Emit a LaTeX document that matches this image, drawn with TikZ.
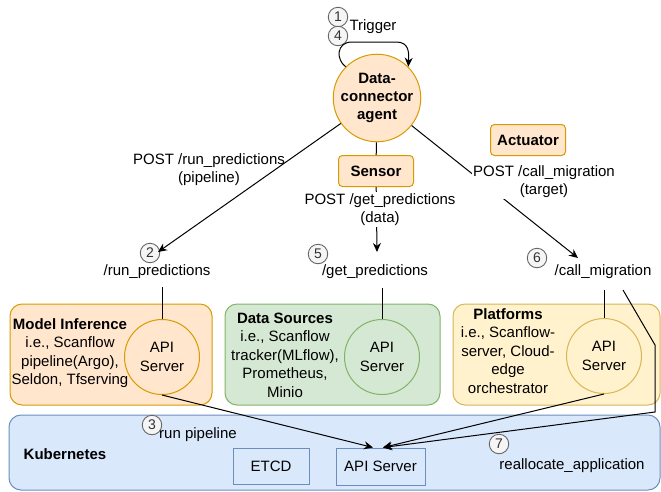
\documentclass[tikz,border=0pt]{standalone}
\usepackage{fontspec}
\setmainfont{Liberation Sans}
\usetikzlibrary{arrows.meta}
\definecolor{orfill}{HTML}{FFE6CC}
\definecolor{ordraw}{HTML}{D79B00}
\definecolor{grfill}{HTML}{D5E8D4}
\definecolor{grdraw}{HTML}{82B366}
\definecolor{yefill}{HTML}{FFF2CC}
\definecolor{yedraw}{HTML}{D6B656}
\definecolor{blfill}{HTML}{DAE8FC}
\definecolor{bldraw}{HTML}{6C8EBF}
\definecolor{numfill}{HTML}{F5F5F5}
\definecolor{numdraw}{HTML}{666666}
\definecolor{numtext}{HTML}{333333}
\begin{document}
\begin{tikzpicture}[x=1pt,y=-1pt,
 every node/.style={font=\fontsize{15}{18.5}\selectfont, inner sep=0pt},
 conn/.style={draw=black, line width=1pt},
 arr/.style={conn, -{Stealth[length=9pt,width=8pt]}},
 num/.style={circle, draw=numdraw, fill=numfill, text=numtext, minimum size=19.5pt, font=\fontsize{14}{14}\selectfont, line width=0.9pt},
 panel/.style={rounded corners=12pt, line width=1pt},
 apicircle/.style={circle, minimum size=75pt, align=center, line width=1pt},
 tag/.style={rounded corners=4pt, fill=orfill, draw=ordraw, line width=1pt, font=\bfseries\fontsize{15}{18}\selectfont, minimum width=75pt, minimum height=31pt},
 lbl/.style={align=center},
 kbox/.style={draw=bldraw, fill=blfill, line width=1pt},
]
\useasboundingbox (0,0) rectangle (661,491);
\clip (0,0) rectangle (661,491);

% panels
\draw[panel, fill=blfill, draw=bldraw] (9,415) rectangle (660,490);
\draw[panel, fill=orfill, draw=ordraw] (10,304) rectangle (212,405);
\draw[panel, fill=grfill, draw=grdraw] (225,304) rectangle (440,405);
\draw[panel, fill=yefill, draw=yedraw] (453,304) rectangle (660,405);

% agent and tags
\node[circle, minimum size=74pt, fill=orfill, draw=ordraw, line width=1pt, align=center, font=\bfseries\fontsize{15}{18}\selectfont] (agent) at (377,98) {Data-\\connector\\agent};
\node[tag] (sensor) at (376,171) {Sensor};
\node[tag] (actuator) at (528,140) {Actuator};

% numbers and trigger
\node[num] (n1) at (338,17) {1};
\node[num] (n4) at (338,36) {4};
\node (trig) at (373,27) {Trigger};

% target endpoints
\node (trun) at (157,272) {/run\_predictions};
\node (tget) at (375,272) {/get\_predictions};
\node (tcall) at (603,272) {/call\_migration};
\coordinate (runtip) at (158,252);
\coordinate (gettip) at (377,252);
\coordinate (calltip) at (578,258);
\node[num] (n2) at (150,253) {2};
\node[num] (n5) at (318,254) {5};
\node[num] (n6) at (537,258) {6};

% API circles
\node[apicircle, fill=orfill, draw=ordraw] (api1) at (162,357) {API\\Server};
\node[apicircle, fill=grfill, draw=grdraw] (api2) at (382,357) {API\\Server};
\node[apicircle, fill=yefill, draw=yedraw] (api3) at (604,356) {API\\Server};

% panel texts
\node[align=center] (mitext) at (70,353) {\textbf{Model Inference}\\i.e., Scanflow\\pipeline(Argo),\\Seldon, Tfserving};
\node[align=center] (dstext) at (285,355) {\textbf{Data Sources}\\i.e., Scanflow\\tracker(MLflow),\\Prometheus,\\Minio};
\node[align=center] (pftext) at (508,351) {\textbf{Platforms}\\i.e., Scanflow-\\server, Cloud-\\edge\\orchestrator};

% kubernetes content
\node[font=\bfseries\fontsize{15}{18}\selectfont] (k8) at (65,454) {Kubernetes};
\node[kbox, minimum width=76pt, minimum height=36pt] (etcd) at (271,466) {ETCD};
\node[kbox, minimum width=89pt, minimum height=37pt] (k8api) at (380.5,466.5) {API Server};
\node (runpipe) at (198,435) {run pipeline};
\node (realloc) at (572,466) {reallocate\_application};
\node[num] (n3) at (152,425) {3};
\node[num] (n7) at (499,444) {7};

% connectors
\draw[arr] (agent.135) .. controls (336,60) and (336,42) .. (352,42) -- (396,42) .. controls (409,42) and (409,52) .. (agent.45);
\draw[arr] (agent) -- (runtip);
\draw[conn] (agent) -- (sensor);
\draw[arr] (sensor) -- (gettip);
\draw[arr] (agent) -- (calltip);

\coordinate (c1top) at (162,287);
\coordinate (c2top) at (382,288);
\coordinate (c3top) at (604,290);
\draw[conn] (c1top) -- (api1);
\draw[conn] (c2top) -- (api2);
\draw[conn] (c3top) -- (api3);

\coordinate (rstart) at (623,290);
\coordinate (rbend) at (655,345);
\coordinate (rdown) at (655,412);
\draw[arr] (rstart) -- (rbend) -- (rdown) -- ([xshift=2.5pt]k8api.north);
\draw[arr] (api3.south) -- ([xshift=2.5pt]k8api.north);
\draw[arr] (api1.south) -- ([xshift=-7.5pt]k8api.north);

% labels on top
\node[lbl] (lrun) at (209,169.5) {POST /run\_predictions\\(pipeline)};
\node[lbl, fill=white, inner sep=1pt] (lget) at (380,209.5) {POST /get\_predictions\\(data)};
\node[lbl, fill=white, inner sep=1pt] (lcall) at (544,181.5) {POST /call\_migration\\(target)};
\end{tikzpicture}
\end{document}
